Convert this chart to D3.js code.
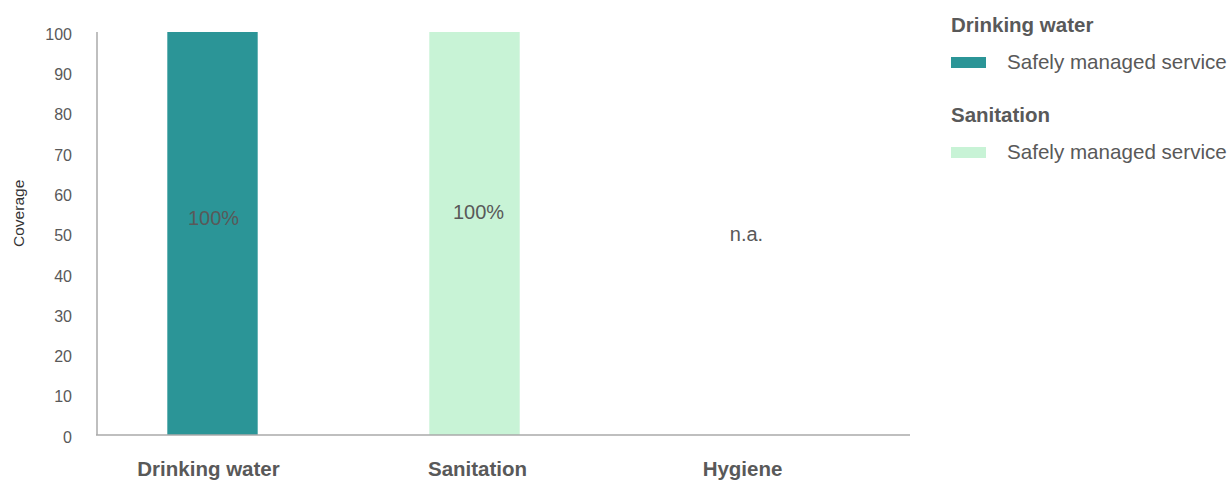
<!DOCTYPE html>
<html>
<head>
<meta charset="utf-8">
<script src="https://cdn.jsdelivr.net/npm/d3@7"></script>
<style>
  html, body { margin: 0; padding: 0; background: #fff; }
  svg { display: block; font-family: "Liberation Sans", Arial, sans-serif; }
</style>
</head>
<body>
<svg id="chart" width="1229" height="480"></svg>
<script>
// Service coverage by category (percent); null = data not available
const categories = ["Drinking water", "Sanitation", "Hygiene"];
const coverage = [100, 100, null];
const barColors = ["#2b9597", "#c8f3d6", "#cccccc"];
const yTicks = [0, 10, 20, 30, 40, 50, 60, 70, 80, 90, 100];
const legendGroups = ["Drinking water", "Sanitation"];
const legendItems = ["Safely managed service", "Safely managed service"];
const legendColors = ["#2b9597", "#c8f3d6"];

const textColor = "#595959";
const svg = d3.select("#chart");

const x = d3.scaleBand()
  .domain(categories)
  .range([81.5, 867.5])
  .paddingInner(0.655)
  .paddingOuter(0.3275);

const y = d3.scaleLinear().domain([0, 100]).range([435, 32]);

// y axis line and tick labels
svg.append("line")
  .attr("x1", 97).attr("x2", 97)
  .attr("y1", y(100)).attr("y2", y(0))
  .attr("stroke", "#aaaaaa").attr("stroke-width", 1.5);

svg.append("g").selectAll("text")
  .data(yTicks).join("text")
  .attr("x", 72)
  .attr("y", d => y(d) + 2)
  .attr("dy", "0.36em")
  .attr("text-anchor", "end")
  .attr("font-size", 16)
  .attr("fill", textColor)
  .text(d => d);

// y axis title
svg.append("text")
  .attr("transform", `translate(24, ${y(55)}) rotate(-90)`)
  .attr("text-anchor", "middle")
  .attr("font-size", 15.5)
  .attr("fill", "#333")
  .text("Coverage");

// bars
svg.append("g").selectAll("rect")
  .data(categories.map((c, i) => ({ c, v: coverage[i], color: barColors[i] })).filter(d => d.v != null))
  .join("rect")
  .attr("x", d => x(d.c))
  .attr("width", x.bandwidth())
  .attr("y", d => y(d.v))
  .attr("height", d => y(0) - y(d.v))
  .attr("fill", d => d.color);

// x axis line
svg.append("line")
  .attr("x1", 96).attr("x2", 910)
  .attr("y1", y(0)).attr("y2", y(0))
  .attr("stroke", "#aaaaaa").attr("stroke-width", 1.5);

// value labels
svg.append("g").selectAll("text")
  .data(categories.map((c, i) => ({ c, v: coverage[i], i })))
  .join("text")
  .attr("x", d => x(d.c) + x.bandwidth() / 2 + [1, 4, 10][d.i])
  .attr("y", d => d.v == null ? y(50) : y(d.v * (d.i === 0 ? 0.54 : 0.555)))
  .attr("dy", "0.36em")
  .attr("text-anchor", "middle")
  .attr("font-size", 20)
  .attr("fill", textColor)
  .text(d => d.v == null ? "n.a." : d.v + "%");

// category labels
svg.append("g").selectAll("text")
  .data(categories).join("text")
  .attr("x", (d, i) => x(d) + x.bandwidth() / 2 + [-4, 3, 6][i])
  .attr("y", 476)
  .attr("text-anchor", "middle")
  .attr("font-size", 20.5)
  .attr("font-weight", "bold")
  .attr("fill", textColor)
  .text(d => d);

// legend
const legend = svg.append("g").attr("transform", "translate(951, 0)");
legendGroups.forEach((g, i) => {
  const top = i * 90;
  legend.append("text")
    .attr("x", 0).attr("y", top + 32)
    .attr("font-size", 20.5)
    .attr("font-weight", "bold")
    .attr("fill", textColor)
    .text(g);
  legend.append("rect")
    .attr("x", 0).attr("y", top + 57)
    .attr("width", 35).attr("height", 11)
    .attr("fill", legendColors[i]);
  legend.append("text")
    .attr("x", 56).attr("y", top + 69)
    .attr("font-size", 20.6)
    .attr("fill", textColor)
    .text(legendItems[i]);
});
</script>
</body>
</html>
